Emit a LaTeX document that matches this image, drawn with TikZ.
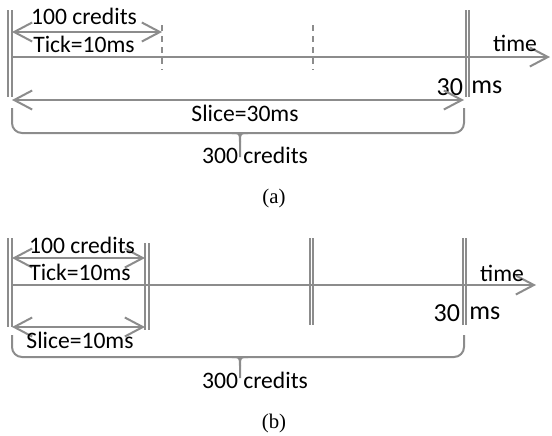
\documentclass[tikz,border=0pt]{standalone}
\usepackage{fontspec}
\setmainfont{Liberation Serif}
\newfontfamily\lblfont{Carlito}
\usetikzlibrary{arrows.meta}

\begin{document}
\begin{tikzpicture}[x=0.5pt, y=-0.5pt, >={Straight Barb[length=9pt,width=9.5pt]},
		ln/.style={draw=gray!90, line width=1pt},
		dashln/.style={ln, dash pattern=on 3pt off 2.5pt},
		txt/.style={font=\lblfont\fontsize{11.8}{14}\selectfont, inner sep=0pt},
		bigtxt/.style={font=\lblfont\fontsize{13}{15}\selectfont, inner sep=0pt},
		capt/.style={font=\fontsize{10.4}{12}\selectfont, inner sep=0pt}]
		\useasboundingbox (0,0) rectangle (552,435);
		% ---- (a) one slice of 30ms
		\foreach \x in {8,11.5,465.5,469} \draw[ln] (\x,10) -- (\x,97);
		\coordinate (a0) at (11,57);
		\coordinate (aend) at (550,57);
		\draw[ln,->] (a0) -- (aend);
		\node[txt] (timeA) at (515,43) {time};
		\coordinate (ta0) at (12,32);
		\coordinate (ta1) at (162,32);
		\draw[ln,<->] (ta0) -- (ta1);
		\node[txt] (credA) at (84,16) {100 credits};
		\node[txt] (tickA) at (84,44) {Tick=10ms};
		\foreach \x in {162,313} \draw[dashln] (\x,25) -- (\x,70);
		\node[bigtxt,anchor=east] (thirtyA) at (463.5,87) {30};
		\node[bigtxt,anchor=west] (msA) at (471,87) {ms};
		\coordinate (sa0) at (12,100);
		\coordinate (sa1) at (464,100);
		\draw[ln,<->] (sa0) -- (sa1);
		\node[txt] (sliceA) at (245,113) {Slice=30ms};
		\draw[ln, rounded corners=5pt] (12,108) -- (12,133) -- (464,133) -- (464,108);
		\draw[ln] (232,133) .. controls (240,133) .. (240,142) -- (240,157);
		\draw[ln] (248,133) .. controls (240,133) .. (240,142);
		\node[txt] (totA) at (255,155) {300 credits};
		\node[capt] (capA) at (274,198) {(a)};
		% ---- (b) slices of 10ms
		\foreach \x in {8,11.5} \draw[ln] (\x,238) -- (\x,327);
		\foreach \x in {145,148.5} \draw[ln] (\x,243) -- (\x,330);
		\foreach \x in {309.5,313,462.5,466} \draw[ln] (\x,238) -- (\x,325);
		\coordinate (b0) at (11,285);
		\coordinate (bend) at (536,285);
		\draw[ln,->] (b0) -- (bend);
		\node[txt] (timeB) at (502,273) {time};
		\coordinate (tb0) at (12,258);
		\coordinate (tb1) at (145,258);
		\draw[ln,<->] (tb0) -- (tb1);
		\node[txt] (credB) at (82,245) {100 credits};
		\node[txt] (tickB) at (80,272) {Tick=10ms};
		\node[bigtxt,anchor=east] (thirtyB) at (460.5,313) {30};
		\node[bigtxt,anchor=west] (msB) at (469,313) {ms};
		\coordinate (sb0) at (12,327);
		\coordinate (sb1) at (145,327);
		\draw[ln,<->] (sb0) -- (sb1);
		\node[txt] (sliceB) at (80,340) {Slice=10ms};
		\draw[ln, rounded corners=5pt] (12,335) -- (12,357) -- (464,357) -- (464,335);
		\draw[ln] (232,357) .. controls (240,357) .. (240,366) -- (240,378);
		\draw[ln] (248,357) .. controls (240,357) .. (240,366);
		\node[txt] (totB) at (255,380) {300 credits};
		\node[capt] (capB) at (274,423) {(b)};
	\end{tikzpicture}
\end{document}
